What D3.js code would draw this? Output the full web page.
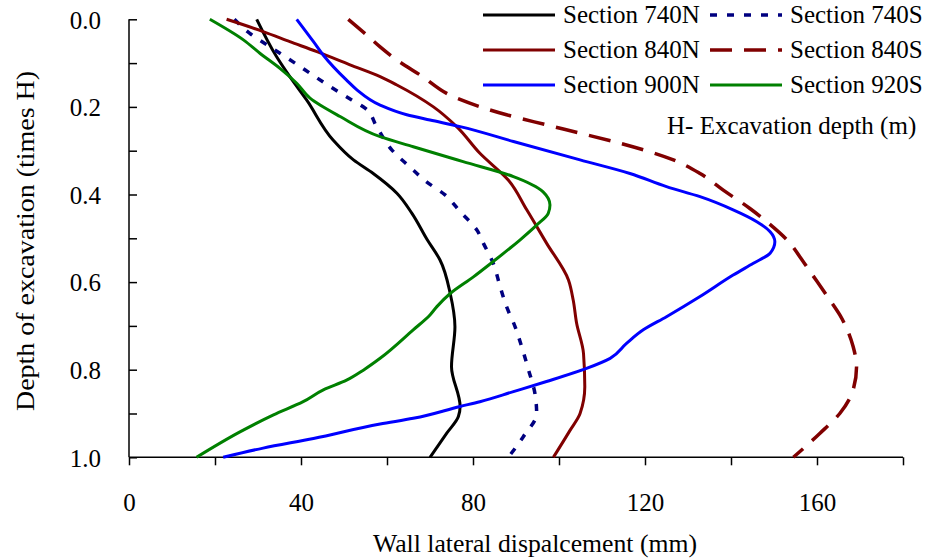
<!DOCTYPE html>
<html><head><meta charset="utf-8">
<script src="https://cdn.jsdelivr.net/npm/d3@7"></script>
<style>
html,body{margin:0;padding:0;background:#fff;}
svg text{font-family:"Liberation Serif","Times New Roman",serif;fill:#000;}
</style></head>
<body><svg id="c" width="930" height="559"></svg>
<script>
// depth ratio (times H) and displacement (mm)
const names = ["Section 740N","Section 740S","Section 840N","Section 840S","Section 900N","Section 920S"];
const d740N = [0,0.085,0.131,0.184,0.276,0.321,0.352,0.397,0.443,0.504,0.549,0.626,0.702,0.793,0.884,0.907,0.945,1.0];
const v740N = [29.7,34.3,37.4,41.3,47.5,52.2,56.8,62.3,65.8,69.4,72.3,74.7,75.8,75.0,77.0,76.6,73.9,70.0];
const d740S = [0,0.032,0.063,0.100,0.131,0.158,0.184,0.203,0.245,0.298,0.337,0.371,0.401,0.439,0.481,0.511,0.557,0.610,0.656,0.702,0.747,0.800,0.854,0.900,0.953,1.0];
const v740S = [24.5,28.1,32.8,38.6,43.3,47.5,51.8,54.9,57.6,61.1,65.3,69.2,73.5,77.0,80.9,82.4,84.7,86.3,87.8,89.8,91.3,92.9,94.4,94.8,91.7,88.2];
const d840N = [0,0.028,0.051,0.074,0.104,0.131,0.150,0.200,0.245,0.306,0.367,0.435,0.511,0.595,0.641,0.694,0.763,0.839,0.900,0.938,1.0];
const v840N = [22.7,31.2,37.4,43.7,51.4,58.4,62.3,70.8,76.2,81.6,88.2,92.5,97.1,102.2,103.3,104.1,105.7,106.0,104.9,102.6,98.7];
const d840S = [0,0.036,0.063,0.093,0.127,0.180,0.218,0.241,0.260,0.283,0.321,0.352,0.390,0.432,0.462,0.511,0.542,0.576,0.641,0.675,0.747,0.793,0.846,0.900,0.945,1.0];
const v840S = [51.0,55.3,58.4,62.3,67.7,76.2,87.8,97.1,104.9,114.2,126.6,132.8,138.2,144.4,148.3,153.7,156.0,158.4,163.0,165.3,168.4,169.2,168.4,165.3,160.7,154.5];
const d900N = [0,0.051,0.082,0.139,0.161,0.196,0.218,0.230,0.245,0.279,0.321,0.352,0.382,0.405,0.435,0.462,0.485,0.508,0.534,0.557,0.584,0.633,0.679,0.709,0.740,0.774,0.797,0.827,0.850,0.873,0.884,0.911,0.924,0.957,0.979,1.0];
const v900N = [39.0,42.9,45.2,50.6,53.0,58.4,64.6,70.0,77.0,89.4,104.9,116.5,125.0,132.8,140.5,146.0,149.1,150.2,149.1,145.2,140.5,132.8,125.0,119.6,115.7,111.9,106.4,97.1,89.4,81.6,77.0,66.1,58.4,42.9,31.2,21.9];
const d920S = [0,0.047,0.078,0.112,0.146,0.180,0.222,0.268,0.291,0.325,0.359,0.394,0.424,0.443,0.470,0.504,0.553,0.588,0.626,0.656,0.675,0.709,0.774,0.801,0.824,0.846,0.873,0.903,0.942,1.0];
const v920S = [18.8,26.6,30.5,35.1,39.0,42.1,49.1,58.4,66.1,77.7,89.4,96.3,97.9,97.5,94.8,90.9,84.7,80.1,74.7,71.6,70.0,66.1,58.4,54.5,50.6,45.2,40.5,33.6,25.8,15.7];
const xTicks = [0,20,40,60,80,100,120,140,160,180];
const xTickLabels = ["0","","40","","80","","120","","160",""];
const yTicks = [0,0.1,0.2,0.3,0.4,0.5,0.6,0.7,0.8,0.9,1.0];
const yTickLabels = ["0.0","","0.2","","0.4","","0.6","","0.8","","1.0"];
const xTitle = "Wall lateral dispalcement (mm)";
const yTitle = "Depth of excavation (times H)";
const note = "H- Excavation depth (m)";

const series = [
  {name:names[0], d:d740N, v:v740N, color:"#000000", w:3, dash:null},
  {name:names[1], d:d740S, v:v740S, color:"#000080", w:3.5, dash:"7,10"},
  {name:names[2], d:d840N, v:v840N, color:"#800000", w:3, dash:null},
  {name:names[3], d:d840S, v:v840S, color:"#800000", w:3.5, dash:"22,12"},
  {name:names[4], d:d900N, v:v900N, color:"#0000FF", w:3, dash:null},
  {name:names[5], d:d920S, v:v920S, color:"#008000", w:3, dash:null}
];

const FS = 25;
const svg = d3.select("#c");
const x = d3.scaleLinear().domain([0,180]).range([129,903]);
const y = d3.scaleLinear().domain([0,1]).range([19.3,457.3]);

// axes
const xAxis = d3.axisBottom(x).tickValues(xTicks).tickSize(8).tickFormat((d,i)=>xTickLabels[i]).tickPadding(28);
const gx = svg.append("g").attr("transform",`translate(0,${y(1)})`).call(xAxis);
gx.attr("font-family",null).attr("font-size",null);
gx.select(".domain").attr("d",`M${x(0)},0H${x(180)}`).attr("stroke","#000").attr("stroke-width",1.5);
gx.selectAll(".tick line").attr("stroke","#000").attr("stroke-width",1.5);
gx.selectAll(".tick text").attr("font-size",FS).attr("fill","#000");

const yAxis = d3.axisLeft(y).tickValues(yTicks).tickSize(-8).tickFormat((d,i)=>yTickLabels[i]).tickPadding(28);
const gy = svg.append("g").attr("transform",`translate(${x(0)},0)`).call(yAxis);
gy.attr("font-family",null).attr("font-size",null);
gy.select(".domain").attr("d",`M0,${y(0)}V${y(1)}`).attr("stroke","#000").attr("stroke-width",1.5);
gy.selectAll(".tick line").attr("stroke","#000").attr("stroke-width",1.5);
gy.selectAll(".tick text").attr("font-size",FS).attr("fill","#000").attr("dy","0.35em");

// lines
const line = d3.line().x(p=>x(p[0])).y(p=>y(p[1])).curve(d3.curveMonotoneY);
series.forEach(s=>{
  const pts = s.d.map((dd,i)=>[s.v[i],dd]);
  const p = svg.append("path").datum(pts).attr("d",line).attr("fill","none")
    .attr("stroke",s.color).attr("stroke-width",s.w).attr("stroke-linejoin","round");
  if(s.dash) p.attr("stroke-dasharray",s.dash);
});

// titles
svg.append("text").attr("x",535).attr("y",552).attr("text-anchor","middle").attr("font-size",FS)
  .attr("textLength",324).attr("lengthAdjust","spacingAndGlyphs").text(xTitle);
svg.append("text").attr("transform","translate(34,241) rotate(-90)").attr("text-anchor","middle").attr("font-size",26)
  .attr("textLength",340).attr("lengthAdjust","spacingAndGlyphs").text(yTitle);

// legend
const lg = svg.append("g");
series.forEach((s,i)=>{
  const col = i%2, row = Math.floor(i/2);
  const lx = col===0 ? 483 : 710;
  const ly = 15 + row*35;
  lg.append("line").attr("x1",lx).attr("x2",lx+72).attr("y1",ly).attr("y2",ly)
    .attr("stroke",s.color).attr("stroke-width",s.w).attr("stroke-dasharray",s.dash);
  lg.append("text").attr("x",lx+80).attr("y",ly+8).attr("font-size",FS).text(s.name);
});
svg.append("text").attr("x",667).attr("y",134).attr("font-size",FS).text(note);
</script></body></html>
